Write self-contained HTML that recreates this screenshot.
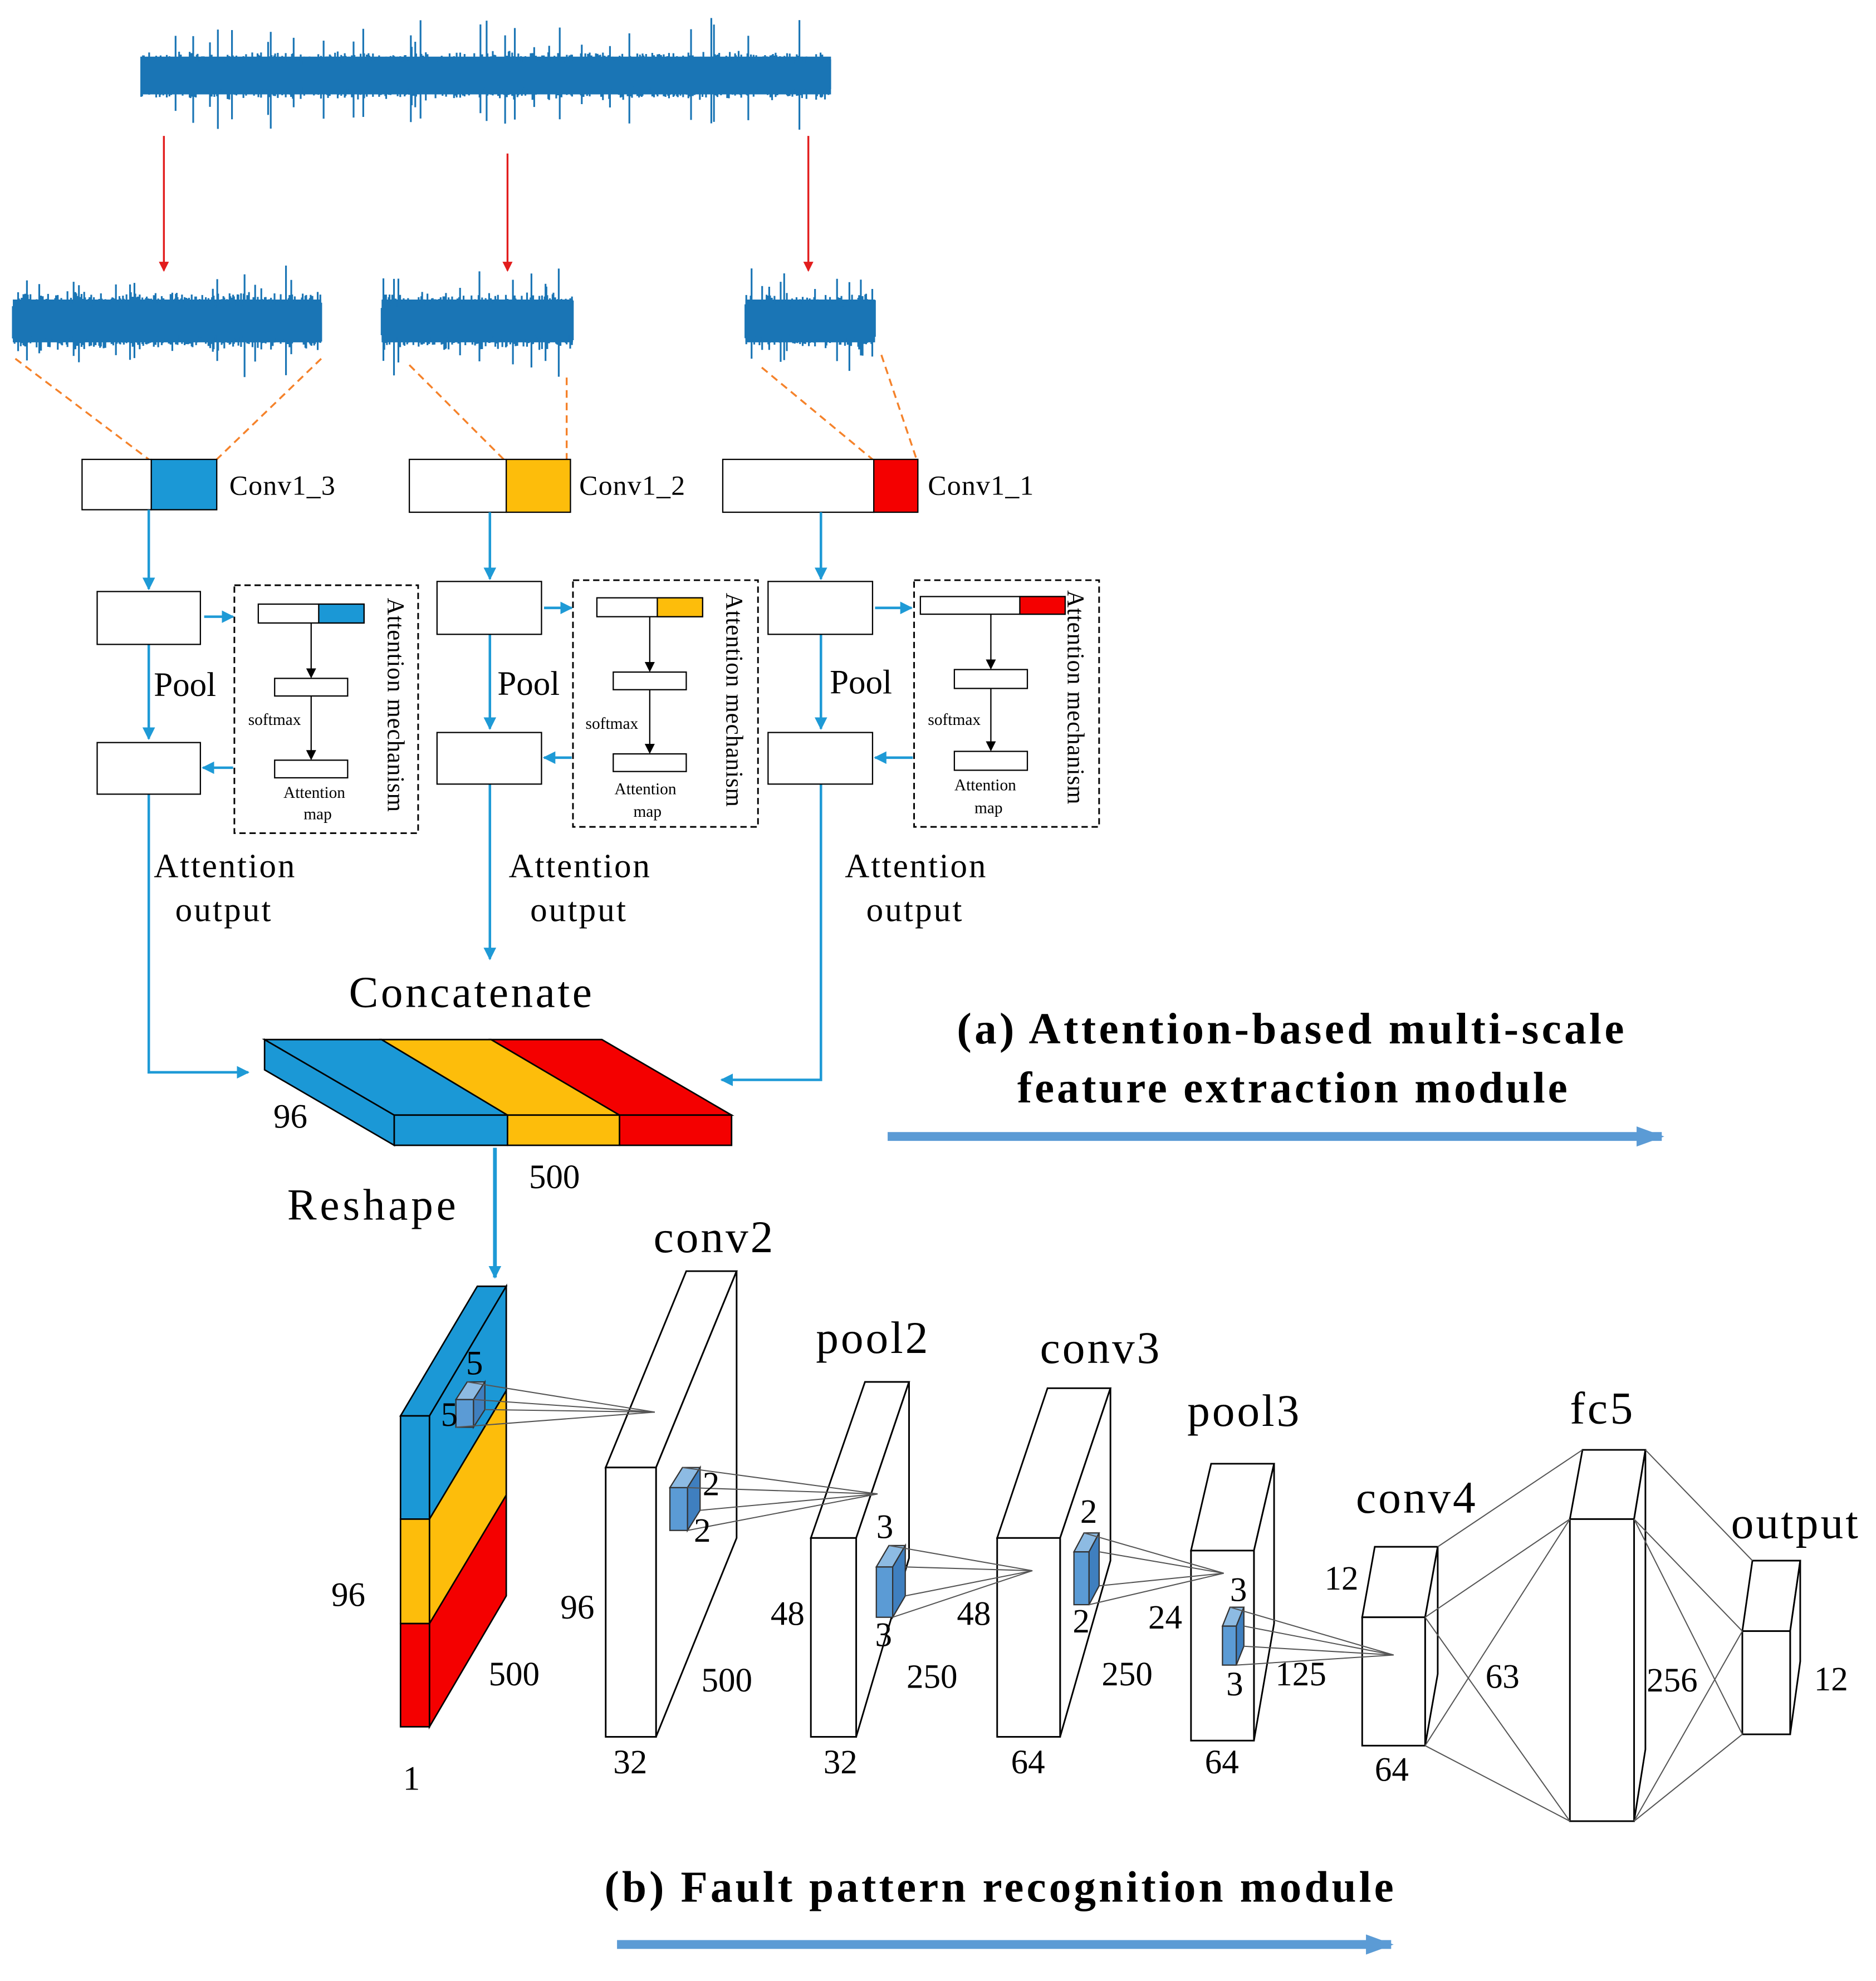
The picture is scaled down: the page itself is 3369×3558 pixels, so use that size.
<!DOCTYPE html>
<html><head><meta charset="utf-8">
<style>
html,body{margin:0;padding:0;background:#fff;}
svg{display:block;}
text{font-family:"Liberation Serif","Times New Roman",serif;fill:#000;}
</style></head>
<body>
<svg id="s" width="3369" height="3558" viewBox="0 0 1490 1574" xmlns="http://www.w3.org/2000/svg" font-family="Liberation Serif, serif">
<defs>
<marker id="ar" markerWidth="8" markerHeight="8" refX="7" refY="4" orient="auto" markerUnits="userSpaceOnUse"><path d="M0,0 L8,4 L0,8 z" fill="#e21d1d"/></marker>
<marker id="ab" markerWidth="10" markerHeight="10" refX="9" refY="5" orient="auto" markerUnits="userSpaceOnUse"><path d="M0,0 L10,5 L0,10 z" fill="#1e9ad6"/></marker>
<marker id="ak" markerWidth="8" markerHeight="8" refX="7" refY="4" orient="auto" markerUnits="userSpaceOnUse"><path d="M0,0 L8,4 L0,8 z" fill="#000"/></marker>
<marker id="abig" markerWidth="22" markerHeight="16" refX="20" refY="8" orient="auto" markerUnits="userSpaceOnUse"><path d="M0,0 L22,8 L0,16 z" fill="#5b9bd5"/></marker>
</defs>
<g id="waves" fill="#1a75b5">
<rect x="112" y="45" width="548" height="30"/>
<rect x="10" y="238" width="245" height="34"/>
<rect x="303" y="238" width="152" height="34"/>
<rect x="592" y="238" width="103" height="34"/>
</g>
<g id="wl" stroke="#1a75b5" stroke-width="1.4" fill="none"></g>

<g stroke="#e21d1d" stroke-width="1.5" marker-end="url(#ar)">
<line x1="130" y1="108" x2="130" y2="215"/>
<line x1="403" y1="122" x2="403" y2="215"/>
<line x1="642" y1="108" x2="642" y2="215"/>
</g>
<g stroke="#f5822a" stroke-width="1.5" stroke-dasharray="6,4">
<line x1="12" y1="285" x2="118" y2="365"/><line x1="255" y1="285" x2="172" y2="365"/>
<line x1="325" y1="290" x2="400" y2="365"/><line x1="450" y1="300" x2="450" y2="365"/>
<line x1="605" y1="292" x2="693" y2="365"/><line x1="700" y1="282" x2="728" y2="365"/>
</g>
<g stroke="#000" stroke-width="1">
<rect x="65" y="365" width="55" height="40" fill="#fff"/><rect x="120" y="365" width="52" height="40" fill="#1b98d6"/>
<rect x="325" y="365" width="77" height="42" fill="#fff"/><rect x="402" y="365" width="51" height="42" fill="#fdbd0b"/>
<rect x="574" y="365" width="120" height="42" fill="#fff"/><rect x="694" y="365" width="35" height="42" fill="#f40000"/>
</g>
<g font-size="22"><text x="182" y="393" textLength="84">Conv1_3</text><text x="460" y="393" textLength="84">Conv1_2</text><text x="737" y="393" textLength="84">Conv1_1</text></g>

<g stroke="#1e9ad6" stroke-width="2" fill="none" marker-end="url(#ab)">
<line x1="118" y1="405" x2="118" y2="468"/><line x1="389" y1="407" x2="389" y2="460"/><line x1="652" y1="407" x2="652" y2="460"/>
<line x1="118" y1="512" x2="118" y2="587"/><line x1="389" y1="504" x2="389" y2="579"/><line x1="652" y1="504" x2="652" y2="579"/>
<line x1="162" y1="490" x2="185" y2="490"/><line x1="432" y1="483" x2="454" y2="483"/><line x1="695" y1="483" x2="724" y2="483"/>
<line x1="185" y1="610" x2="161" y2="610"/><line x1="454" y1="602" x2="432" y2="602"/><line x1="725" y1="602" x2="695" y2="602"/>
<polyline points="118,631 118,852 197,852"/>
<line x1="389" y1="623" x2="389" y2="762"/>
<polyline points="652,623 652,858 573,858"/>
<line x1="393" y1="912" x2="393" y2="1015" stroke-width="3"/>
</g>
<g stroke="#000" stroke-width="1" fill="#fff">
<rect x="77" y="470" width="82" height="42"/><rect x="77" y="590" width="82" height="41"/>
<rect x="347" y="462" width="83" height="42"/><rect x="347" y="582" width="83" height="41"/>
<rect x="610" y="462" width="83" height="42"/><rect x="610" y="582" width="83" height="41"/>
</g>
<g stroke="#000" stroke-width="1.3" fill="none" stroke-dasharray="5,3">
<rect x="186" y="465" width="146" height="197"/><rect x="455" y="461" width="147" height="196"/><rect x="726" y="461" width="147" height="196"/>
</g>
<g stroke="#000" stroke-width="1">
<rect x="205" y="480" width="84" height="15" fill="#fff"/><rect x="253" y="480" width="36" height="15" fill="#1b98d6"/>
<rect x="218" y="539" width="58" height="14" fill="#fff"/><rect x="218" y="604" width="58" height="14" fill="#fff"/>
<rect x="474" y="475" width="84" height="15" fill="#fff"/><rect x="522" y="475" width="36" height="15" fill="#fdbd0b"/>
<rect x="487" y="534" width="58" height="14" fill="#fff"/><rect x="487" y="599" width="58" height="14" fill="#fff"/>
<rect x="731" y="474" width="115" height="14" fill="#fff"/><rect x="810" y="474" width="36" height="14" fill="#f40000"/>
<rect x="758" y="532" width="58" height="15" fill="#fff"/><rect x="758" y="597" width="58" height="15" fill="#fff"/>
</g>
<g stroke="#000" stroke-width="1" marker-end="url(#ak)">
<line x1="247" y1="495" x2="247" y2="538"/><line x1="247" y1="553" x2="247" y2="603"/>
<line x1="516" y1="490" x2="516" y2="533"/><line x1="516" y1="548" x2="516" y2="598"/>
<line x1="787" y1="488" x2="787" y2="531"/><line x1="787" y1="547" x2="787" y2="596"/>
</g>
<g font-size="13">
<text x="197" y="576">softmax</text><text x="225" y="634">Attention</text><text x="241" y="651">map</text>
<text x="465" y="579">softmax</text><text x="488" y="631">Attention</text><text x="503" y="649">map</text>
<text x="737" y="576">softmax</text><text x="758" y="628">Attention</text><text x="774" y="646">map</text>
</g>
<g font-size="19">
<text transform="translate(308,475) rotate(90)" textLength="170">Attention mechanism</text>
<text transform="translate(577,471) rotate(90)" textLength="170">Attention mechanism</text>
<text transform="translate(848,469) rotate(90)" textLength="170">Attention mechanism</text>
</g>
<g font-size="27">
<text x="122" y="553">Pool</text><text x="395" y="552">Pool</text><text x="659" y="551">Pool</text>
<text x="122" y="697" textLength="112">Attention</text><text x="139" y="732" textLength="76">output</text>
<text x="404" y="697" textLength="112">Attention</text><text x="421" y="732" textLength="76">output</text>
<text x="671" y="697" textLength="112">Attention</text><text x="688" y="732" textLength="76">output</text>
</g>
<text x="277" y="800" font-size="35" textLength="193">Concatenate</text>

<g stroke="#000" stroke-width="1.2">
<polygon points="210,826 313,886 313,910 210,850" fill="#1b98d6"/>
<polygon points="210,826 303,826 403,886 313,886" fill="#1b98d6"/>
<polygon points="303,826 390,826 492,886 403,886" fill="#fdbd0b"/>
<polygon points="390,826 478,826 581,886 492,886" fill="#f40000"/>
<rect x="313" y="886" width="90" height="24" fill="#1b98d6"/>
<rect x="403" y="886" width="89" height="24" fill="#fdbd0b"/>
<rect x="492" y="886" width="89" height="24" fill="#f40000"/>
</g>
<g font-size="27"><text x="217" y="896">96</text><text x="420" y="944">500</text></g>
<text x="228" y="969" font-size="35" textLength="134">Reshape</text>

<g font-weight="bold" font-size="35">
<text x="760" y="829" textLength="530">(a)  Attention-based multi-scale</text>
<text x="808" y="876" textLength="437">feature extraction module</text>
<text x="480" y="1511" textLength="627">(b)  Fault pattern recognition module</text>
</g>
<line x1="705" y1="903" x2="1320" y2="903" stroke="#5b9bd5" stroke-width="7" marker-end="url(#abig)"/>
<line x1="490" y1="1545" x2="1105" y2="1545" stroke="#5b9bd5" stroke-width="7" marker-end="url(#abig)"/>

<g stroke="#000" stroke-width="1.2">
<polygon points="318,1125 379,1022 402,1022 341,1125" fill="#1b98d6"/>
<polygon points="341,1125 402,1022 402,1105 341,1207" fill="#1b98d6"/>
<polygon points="341,1207 402,1105 402,1188 341,1290" fill="#fdbd0b"/>
<polygon points="341,1290 402,1188 402,1268 341,1372" fill="#f40000"/>
<rect x="318" y="1125" width="23" height="82" fill="#1b98d6"/>
<rect x="318" y="1207" width="23" height="83" fill="#fdbd0b"/>
<rect x="318" y="1290" width="23" height="82" fill="#f40000"/>
</g>
<g stroke="#000" stroke-width="1.3" fill="#fff">
<polygon points="481,1166 545,1010 585,1010 521,1166"/><polygon points="521,1166 585,1010 585,1222 521,1380"/><rect x="481" y="1166" width="40" height="214"/>
<polygon points="644,1222 687,1098 722,1098 680,1222"/><polygon points="680,1222 722,1098 722,1238 680,1380"/><rect x="644" y="1222" width="36" height="158"/>
<polygon points="792,1222 832,1103 882,1103 842,1222"/><polygon points="842,1222 882,1103 882,1240 842,1380"/><rect x="792" y="1222" width="50" height="158"/>
<polygon points="946,1232 962,1163 1012,1163 996,1232"/><polygon points="996,1232 1012,1163 1012,1290 996,1383"/><rect x="946" y="1232" width="50" height="151"/>
<polygon points="1082,1285 1092,1229 1142,1229 1132,1285"/><polygon points="1132,1285 1142,1229 1142,1330 1132,1387"/><rect x="1082" y="1285" width="50" height="102"/>
<polygon points="1247,1207 1257,1152 1307,1152 1298,1207"/><polygon points="1298,1207 1307,1152 1307,1390 1298,1447"/><rect x="1247" y="1207" width="51" height="240"/>
<polygon points="1384,1296 1392,1240 1430,1240 1422,1296"/><polygon points="1422,1296 1430,1240 1430,1320 1422,1378"/><rect x="1384" y="1296" width="38" height="82"/>
</g>
<g stroke="#333" stroke-width="1" fill="#5b9bd5">
<rect x="362" y="1112" width="14" height="22"/><polygon points="362,1112 371,1098 385,1098 376,1112" fill="#8dbbe3"/><polygon points="376,1112 385,1098 385,1120 376,1134" fill="#3f7fbf"/>
<rect x="532" y="1182" width="14" height="34"/><polygon points="532,1182 542,1166 556,1166 546,1182" fill="#8dbbe3"/><polygon points="546,1182 556,1166 556,1200 546,1216" fill="#3f7fbf"/>
<rect x="696" y="1245" width="13" height="40"/><polygon points="696,1245 706,1228 719,1228 709,1245" fill="#8dbbe3"/><polygon points="709,1245 719,1228 719,1268 709,1285" fill="#3f7fbf"/>
<rect x="853" y="1233" width="12" height="42"/><polygon points="853,1233 861,1218 873,1218 865,1233" fill="#8dbbe3"/><polygon points="865,1233 873,1218 873,1260 865,1275" fill="#3f7fbf"/>
<rect x="971" y="1292" width="11" height="31"/><polygon points="971,1292 977,1277 988,1277 982,1292" fill="#8dbbe3"/><polygon points="982,1292 988,1277 988,1308 982,1323" fill="#3f7fbf"/>
</g>
<g stroke="#555" stroke-width="0.9">
<line x1="371" y1="1098" x2="520" y2="1122"/><line x1="376" y1="1112" x2="520" y2="1122"/><line x1="362" y1="1134" x2="520" y2="1122"/><line x1="385" y1="1120" x2="520" y2="1122"/>
<line x1="542" y1="1166" x2="697" y2="1187"/><line x1="546" y1="1182" x2="697" y2="1187"/><line x1="546" y1="1216" x2="697" y2="1187"/><line x1="556" y1="1200" x2="697" y2="1187"/>
<line x1="706" y1="1228" x2="820" y2="1248"/><line x1="719" y1="1245" x2="820" y2="1248"/><line x1="709" y1="1285" x2="820" y2="1248"/><line x1="719" y1="1268" x2="820" y2="1248"/>
<line x1="861" y1="1218" x2="972" y2="1250"/><line x1="873" y1="1233" x2="972" y2="1250"/><line x1="865" y1="1275" x2="972" y2="1250"/><line x1="873" y1="1260" x2="972" y2="1250"/>
<line x1="977" y1="1277" x2="1107" y2="1315"/><line x1="988" y1="1292" x2="1107" y2="1315"/><line x1="982" y1="1323" x2="1107" y2="1315"/><line x1="988" y1="1308" x2="1107" y2="1315"/>
<line x1="1142" y1="1229" x2="1257" y2="1152"/><line x1="1132" y1="1285" x2="1247" y2="1207"/><line x1="1132" y1="1285" x2="1247" y2="1447"/><line x1="1132" y1="1387" x2="1247" y2="1207"/><line x1="1132" y1="1387" x2="1247" y2="1447"/>
<line x1="1307" y1="1152" x2="1392" y2="1240"/><line x1="1298" y1="1207" x2="1384" y2="1296"/><line x1="1298" y1="1207" x2="1384" y2="1378"/><line x1="1298" y1="1447" x2="1384" y2="1296"/><line x1="1298" y1="1447" x2="1384" y2="1378"/>
</g>
<g font-size="36">
<text x="519" y="995" textLength="95">conv2</text><text x="648" y="1075" textLength="89">pool2</text><text x="826" y="1083" textLength="95">conv3</text>
<text x="943" y="1133" textLength="89">pool3</text><text x="1077" y="1202" textLength="95">conv4</text><text x="1247" y="1131" textLength="50">fc5</text><text x="1375" y="1222" textLength="101">output</text>
</g>
<g font-size="27">
<text x="370" y="1092">5</text><text x="350" y="1133">5</text>
<text x="263" y="1276">96</text><text x="388" y="1339">500</text><text x="320" y="1422">1</text>
<text x="445" y="1286">96</text><text x="557" y="1344">500</text><text x="487" y="1409">32</text>
<text x="558" y="1188">2</text><text x="551" y="1225">2</text>
<text x="612" y="1291">48</text><text x="720" y="1341">250</text><text x="654" y="1409">32</text>
<text x="696" y="1222">3</text><text x="695" y="1308">3</text>
<text x="760" y="1291">48</text><text x="875" y="1339">250</text><text x="803" y="1409">64</text>
<text x="858" y="1210">2</text><text x="852" y="1297">2</text>
<text x="912" y="1294">24</text><text x="1013" y="1339">125</text><text x="957" y="1409">64</text>
<text x="977" y="1272">3</text><text x="974" y="1347">3</text>
<text x="1052" y="1263">12</text><text x="1092" y="1415">64</text><text x="1180" y="1341">63</text>
<text x="1308" y="1344">256</text><text x="1441" y="1343">12</text>
</g>
</svg>
<script>
(function(){
var seed=12345;function r(){seed=(seed*1103515245+12345)%2147483648;return seed/2147483648;}
var g=document.getElementById('wl');
function wave(x0,x1,cy,band,spike){
  var d='';
  for(var x=x0;x<=x1;x+=0.7){
    var a=band*(0.55+0.45*r());
    if(r()<0.05)a=spike*(0.5+0.5*r());
    var up=a*(0.7+0.3*r()),dn=a*(0.7+0.3*r());
    d+='M'+x.toFixed(1)+','+(cy-up).toFixed(1)+'V'+(cy+dn).toFixed(1);
  }
  var p=document.createElementNS('http://www.w3.org/2000/svg','path');
  p.setAttribute('d',d);g.appendChild(p);
}
wave(112,660,60,20,48);
wave(10,255,255,24,50);
wave(303,455,255,24,48);
wave(592,695,255,22,42);
})();
</script>
</body></html>
